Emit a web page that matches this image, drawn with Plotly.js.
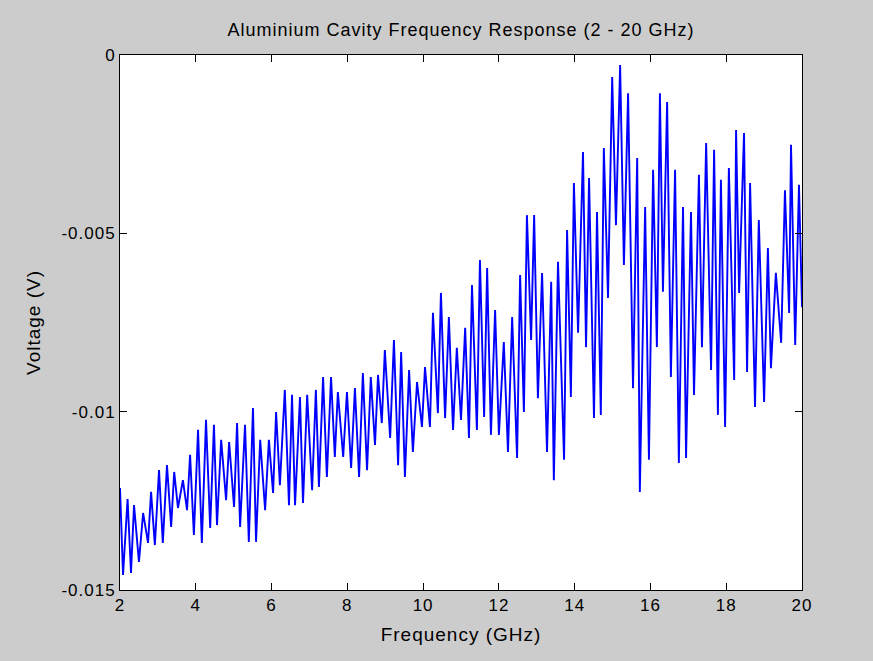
<!DOCTYPE html>
<html>
<head>
<meta charset="utf-8">
<script src="https://cdn.plot.ly/plotly-3.0.1.min.js"></script>
<style>
html,body{margin:0;padding:0;background:#cccccc;}
#chart{width:873px;height:661px;}
#chart text{letter-spacing:1px;}
</style>
</head>
<body>
<div id="chart"></div>
<script>
// Frequency (GHz) of each local extreme
var freqGHz = [
2.00,2.08,2.20,2.29,2.37,2.50,2.61,2.74,2.82,2.92,
3.03,3.13,3.24,3.35,3.43,3.53,3.66,3.77,3.85,3.95,
4.06,4.16,4.27,4.38,4.48,4.56,4.67,4.80,4.88,5.01,
5.09,5.17,5.30,5.40,5.51,5.59,5.70,5.83,5.93,6.04,
6.12,6.22,6.35,6.46,6.54,6.62,6.75,6.83,6.94,7.07,
7.17,7.25,7.36,7.46,7.57,7.67,7.75,7.89,7.99,8.10,
8.20,8.31,8.41,8.52,8.62,8.73,8.81,8.91,8.99,9.13,
9.23,9.34,9.42,9.52,9.63,9.73,9.84,9.97,10.05,10.18,
10.26,10.39,10.47,10.58,10.68,10.79,10.89,11.00,11.11,11.21,
11.29,11.42,11.50,11.61,11.69,11.79,11.90,12.00,12.13,12.24,
12.35,12.48,12.56,12.66,12.74,12.85,12.93,13.03,13.14,13.27,
13.38,13.45,13.56,13.72,13.80,13.90,13.98,14.09,14.22,14.30,
14.38,14.51,14.59,14.69,14.77,14.88,14.99,15.09,15.20,15.30,
15.41,15.54,15.65,15.72,15.86,15.96,16.07,16.17,16.25,16.33,
16.44,16.54,16.65,16.75,16.86,16.94,17.07,17.15,17.28,17.36,
17.47,17.60,17.68,17.78,17.86,17.97,18.07,18.21,18.26,18.34,
18.47,18.55,18.63,18.76,18.86,19.00,19.10,19.18,19.31,19.45,
19.55,19.66,19.71,19.82,19.92,20.00
];
// Voltage (V) at each extreme
var voltageV = [
-0.01214,-0.01458,-0.01245,-0.01452,-0.01262,-0.01421,-0.01284,-0.01368,-0.01225,-0.01374,
-0.01164,-0.01368,-0.01150,-0.01323,-0.01169,-0.01270,-0.01192,-0.01276,-0.01121,-0.01346,
-0.01051,-0.01368,-0.01023,-0.01326,-0.01037,-0.01318,-0.01079,-0.01248,-0.01085,-0.01267,
-0.01032,-0.01323,-0.01037,-0.01365,-0.00990,-0.01365,-0.01079,-0.01276,-0.01079,-0.01228,
-0.01001,-0.01206,-0.00939,-0.01262,-0.00953,-0.01262,-0.00959,-0.01256,-0.00953,-0.01220,
-0.00939,-0.01211,-0.00903,-0.01183,-0.00903,-0.01127,-0.00945,-0.01127,-0.00945,-0.01158,
-0.00934,-0.01183,-0.00892,-0.01164,-0.00903,-0.01093,-0.00897,-0.01032,-0.00827,-0.01074,
-0.00799,-0.01150,-0.00833,-0.01183,-0.00883,-0.01113,-0.00917,-0.01043,-0.00875,-0.01043,
-0.00723,-0.01004,-0.00667,-0.01018,-0.00735,-0.01051,-0.00821,-0.01023,-0.00765,-0.01074,
-0.00645,-0.01051,-0.00575,-0.01015,-0.00597,-0.01065,-0.00715,-0.01065,-0.00805,-0.01113,
-0.00735,-0.01130,-0.00617,-0.01001,-0.00449,-0.00799,-0.00449,-0.00962,-0.00611,-0.01113,
-0.00636,-0.01192,-0.00580,-0.01135,-0.00491,-0.00959,-0.00359,-0.00779,-0.00272,-0.00819,
-0.00345,-0.01018,-0.00440,-0.01009,-0.00261,-0.00681,-0.00062,-0.00477,-0.00028,-0.00589,
-0.00107,-0.00934,-0.00289,-0.01225,-0.00426,-0.01135,-0.00322,-0.00819,-0.00107,-0.00664,
-0.00132,-0.00903,-0.00322,-0.01144,-0.00426,-0.01130,-0.00440,-0.00953,-0.00336,-0.00819,
-0.00247,-0.00883,-0.00266,-0.01009,-0.00350,-0.01043,-0.00317,-0.00911,-0.00210,-0.00667,
-0.00219,-0.00889,-0.00359,-0.00987,-0.00463,-0.00973,-0.00541,-0.00878,-0.00611,-0.00807,
-0.00379,-0.00723,-0.00252,-0.00813,-0.00364,-0.00707
];
var xTickVals = [2,4,6,8,10,12,14,16,18,20];
var xTickText = ['2','4','6','8','10','12','14','16','18','20'];
var yTickVals = [0,-0.005,-0.01,-0.015];
var yTickText = ['0','-0.005','-0.01','-0.015'];

var font = 'Arial, "Liberation Sans", sans-serif';

var trace = {
  x: freqGHz,
  y: voltageV,
  type: 'scatter',
  mode: 'lines',
  line: {color: 'rgb(0,0,255)', width: 1.9},
  hoverinfo: 'x+y'
};

var layout = {
  width: 873,
  height: 661,
  paper_bgcolor: '#cccccc',
  plot_bgcolor: '#ffffff',
  margin: {l: 120, r: 71, t: 55, b: 71, pad: 0},
  showlegend: false,
  font: {family: font, size: 16, color: '#000'},
  title: {
    text: 'Aluminium Cavity Frequency Response (2 - 20 GHz)',
    font: {family: font, size: 18, color: '#000'},
    x: 0.5, xref: 'paper', xanchor: 'center', y: 0.955, yanchor: 'middle'
  },
  xaxis: {
    range: [2, 20],
    tickvals: xTickVals,
    ticktext: xTickText,
    ticks: 'inside',
    ticklen: 7,
    tickwidth: 1,
    tickcolor: '#000',
    showline: true,
    linecolor: '#000',
    linewidth: 1,
    mirror: 'ticks',
    showgrid: false,
    zeroline: false,
    tickfont: {family: font, size: 17, color: '#000'},
    title: {text: 'Frequency (GHz)', font: {family: font, size: 19, color: '#000'}, standoff: 13}
  },
  yaxis: {
    range: [-0.015, 0],
    tickvals: yTickVals,
    ticktext: yTickText,
    ticks: 'inside',
    ticklen: 7,
    tickwidth: 1,
    tickcolor: '#000',
    showline: true,
    linecolor: '#000',
    linewidth: 1,
    mirror: 'ticks',
    showgrid: false,
    zeroline: false,
    tickfont: {family: font, size: 17, color: '#000'},
    title: {text: 'Voltage (V)', font: {family: font, size: 19, color: '#000'}, standoff: 21}
  }
};

Plotly.newPlot('chart', [trace], layout, {displayModeBar: false, staticPlot: true});
</script>
</body>
</html>
